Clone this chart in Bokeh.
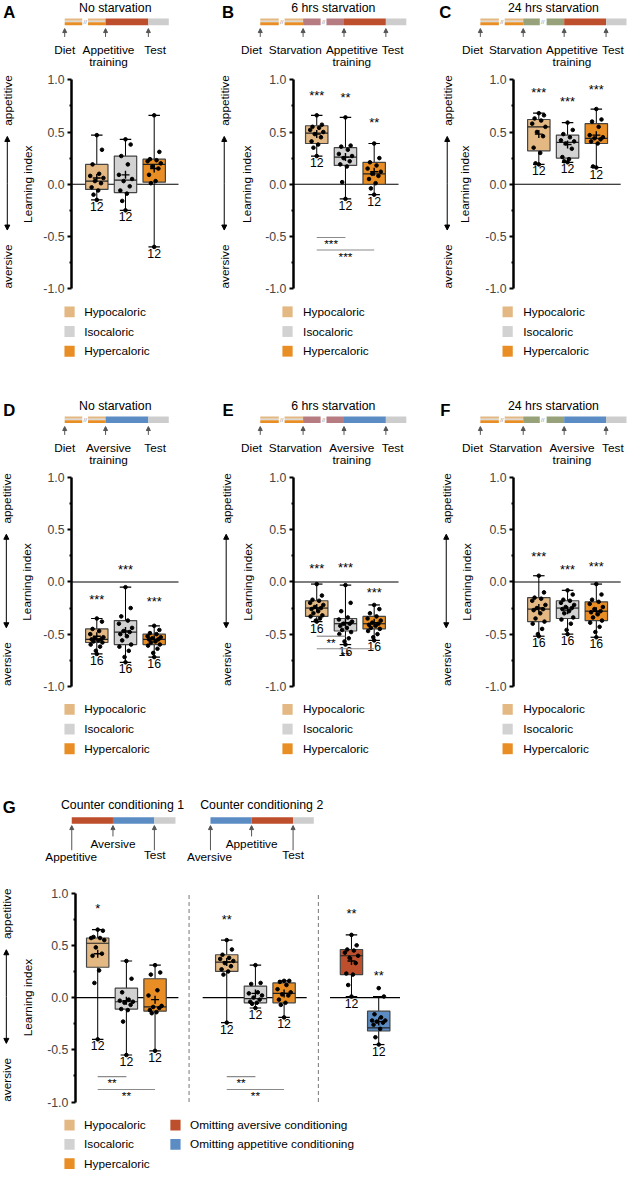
import math
from bokeh.plotting import figure
from bokeh.models import Range1d, LinearAxis, FixedTicker, NumeralTickFormatter, Arrow, NormalHead
from bokeh.layouts import column, row
from bokeh.embed import file_html
from bokeh.resources import INLINE
from bokeh.core.properties import value

# ---------------- data ----------------
diet_groups = ["Hypocaloric", "Isocaloric", "Hypercaloric"]
omit_groups = ["Omitting aversive conditioning", "Omitting appetitive conditioning"]

# Panel A: appetitive, no starvation
A_low = [-0.15, -0.25, -0.60]
A_q1 = [-0.05, -0.08, 0.02]
A_med = [0.03, 0.04, 0.19]
A_q3 = [0.19, 0.27, 0.24]
A_high = [0.47, 0.43, 0.66]
A_mean = [0.06, 0.09, 0.15]
A_n = ["12", "12", "12"]
A_stars = ["", "", ""]
A_star_y = [0, 0, 0]
A_points = [[0.47, 0.33, 0.19, 0.10, 0.08, 0.06, 0.03, 0.01, -0.03, -0.06, -0.10, -0.15],
            [0.43, 0.38, 0.27, 0.19, 0.09, 0.05, 0.03, -0.02, -0.06, -0.09, -0.16, -0.25],
            [0.66, 0.31, 0.24, 0.23, 0.22, 0.20, 0.17, 0.15, 0.09, 0.03, 0.01, -0.60]]

# Panel B: appetitive, 6 hrs starvation
B_low = [0.27, -0.14, -0.10]
B_q1 = [0.39, 0.18, 0.00]
B_med = [0.49, 0.26, 0.10]
B_q3 = [0.56, 0.35, 0.21]
B_high = [0.66, 0.64, 0.39]
B_mean = [0.48, 0.26, 0.12]
B_n = ["12", "12", "12"]
B_stars = ["***", "**", "**"]
B_star_y = [0.86, 0.84, 0.60]
B_points = [[0.66, 0.57, 0.55, 0.54, 0.52, 0.50, 0.48, 0.45, 0.41, 0.38, 0.35, 0.27],
            [0.64, 0.37, 0.36, 0.33, 0.29, 0.27, 0.25, 0.22, 0.19, 0.17, 0.02, -0.14],
            [0.39, 0.25, 0.21, 0.18, 0.15, 0.12, 0.10, 0.08, 0.05, 0.01, -0.04, -0.10]]
B_sig_pairs = [(1, 2), (1, 3)]
B_sig_text = ["***", "***"]
B_sig_y = [-0.51, -0.63]

# Panel C: appetitive, 24 hrs starvation
C_low = [0.19, 0.21, 0.16]
C_q1 = [0.32, 0.25, 0.39]
C_med = [0.55, 0.40, 0.44]
C_q3 = [0.62, 0.47, 0.58]
C_high = [0.68, 0.59, 0.72]
C_mean = [0.48, 0.38, 0.47]
C_n = ["12", "12", "12"]
C_stars = ["***", "***", "***"]
C_star_y = [0.89, 0.80, 0.92]
C_points = [[0.68, 0.66, 0.63, 0.61, 0.58, 0.55, 0.50, 0.46, 0.35, 0.30, 0.20, 0.19],
            [0.59, 0.52, 0.48, 0.45, 0.42, 0.41, 0.39, 0.34, 0.26, 0.24, 0.22, 0.21],
            [0.72, 0.62, 0.60, 0.55, 0.47, 0.45, 0.44, 0.43, 0.41, 0.39, 0.17, 0.16]]

# Panel D: aversive, no starvation
D_low = [-0.69, -0.77, -0.72]
D_q1 = [-0.58, -0.60, -0.60]
D_med = [-0.55, -0.48, -0.55]
D_q3 = [-0.45, -0.37, -0.50]
D_high = [-0.35, -0.05, -0.42]
D_mean = [-0.52, -0.47, -0.55]
D_n = ["16", "16", "16"]
D_stars = ["***", "***", "***"]
D_star_y = [-0.16, 0.13, -0.18]
D_points = [[-0.35, -0.38, -0.45, -0.47, -0.50, -0.53, -0.54, -0.55, -0.55, -0.56, -0.57, -0.58, -0.60, -0.62, -0.66, -0.69],
            [-0.05, -0.25, -0.33, -0.37, -0.40, -0.44, -0.47, -0.48, -0.50, -0.52, -0.56, -0.60, -0.62, -0.66, -0.72, -0.77],
            [-0.42, -0.46, -0.49, -0.50, -0.52, -0.53, -0.54, -0.55, -0.55, -0.57, -0.58, -0.60, -0.61, -0.64, -0.68, -0.72]]

# Panel E: aversive, 6 hrs starvation
E_low = [-0.38, -0.60, -0.56]
E_q1 = [-0.33, -0.47, -0.45]
E_med = [-0.25, -0.40, -0.40]
E_q3 = [-0.18, -0.35, -0.33]
E_high = [-0.02, -0.03, -0.22]
E_mean = [-0.25, -0.39, -0.39]
E_n = ["16", "16", "16"]
E_stars = ["***", "***", "***"]
E_star_y = [0.14, 0.15, -0.09]
E_points = [[-0.02, -0.13, -0.17, -0.18, -0.20, -0.22, -0.24, -0.25, -0.26, -0.28, -0.30, -0.32, -0.33, -0.35, -0.37, -0.38],
            [-0.03, -0.20, -0.28, -0.34, -0.36, -0.38, -0.40, -0.40, -0.42, -0.44, -0.46, -0.48, -0.50, -0.54, -0.57, -0.60],
            [-0.22, -0.26, -0.30, -0.33, -0.35, -0.37, -0.39, -0.40, -0.41, -0.42, -0.44, -0.45, -0.47, -0.50, -0.53, -0.56]]
E_sig_pairs = [(1, 2), (1, 3)]
E_sig_text = ["**", "**"]
E_sig_y = [-0.52, -0.64]

# Panel F: aversive, 24 hrs starvation
F_low = [-0.52, -0.50, -0.53]
F_q1 = [-0.38, -0.35, -0.37]
F_med = [-0.26, -0.25, -0.28]
F_q3 = [-0.15, -0.18, -0.19]
F_high = [0.06, -0.08, -0.02]
F_mean = [-0.25, -0.27, -0.28]
F_n = ["16", "16", "16"]
F_stars = ["***", "***", "***"]
F_star_y = [0.25, 0.13, 0.16]
F_points = [[0.06, -0.10, -0.15, -0.16, -0.18, -0.22, -0.25, -0.26, -0.27, -0.30, -0.35, -0.38, -0.40, -0.45, -0.50, -0.52],
            [-0.08, -0.12, -0.17, -0.18, -0.20, -0.22, -0.24, -0.25, -0.26, -0.28, -0.30, -0.34, -0.36, -0.40, -0.46, -0.50],
            [-0.02, -0.12, -0.17, -0.19, -0.21, -0.24, -0.26, -0.28, -0.29, -0.31, -0.34, -0.37, -0.39, -0.43, -0.48, -0.53]]

# Panel G: counter conditioning 1 (3 diets), counter conditioning 2 (3 diets), omission controls
G_low = [-0.40, -0.55, -0.51, -0.24, -0.10, -0.19, 0.01, -0.45]
G_q1 = [0.29, -0.11, -0.13, 0.25, -0.05, -0.05, 0.22, -0.32]
G_med = [0.52, -0.04, -0.09, 0.34, -0.01, 0.04, 0.40, -0.29]
G_q3 = [0.57, 0.09, 0.18, 0.41, 0.11, 0.14, 0.46, -0.13]
G_high = [0.65, 0.35, 0.31, 0.55, 0.31, 0.16, 0.60, 0.01]
G_mean = [0.42, -0.03, -0.02, 0.34, 0.04, 0.04, 0.35, -0.23]
G_n = ["12"] * 8
G_stars = ["*", "", "", "**", "", "", "**", "**"]
G_star_y = [0.86, 0, 0, 0.76, 0, 0, 0.81, 0.22]
G_points = [[0.65, 0.64, 0.58, 0.57, 0.57, 0.55, 0.48, 0.42, 0.40, 0.26, 0.14, -0.40],
            [0.35, 0.18, 0.05, -0.02, -0.03, -0.04, -0.05, -0.07, -0.11, -0.12, -0.23, -0.55],
            [0.31, 0.24, 0.22, 0.07, 0.02, -0.08, -0.09, -0.10, -0.12, -0.14, -0.15, -0.51],
            [0.55, 0.46, 0.41, 0.38, 0.37, 0.35, 0.33, 0.30, 0.27, 0.25, 0.22, -0.24],
            [0.31, 0.14, 0.13, 0.05, 0.04, 0.02, 0.00, -0.02, -0.04, -0.05, -0.06, -0.10],
            [0.16, 0.16, 0.15, 0.12, 0.08, 0.05, 0.03, 0.02, -0.02, -0.05, -0.07, -0.19],
            [0.60, 0.50, 0.46, 0.45, 0.43, 0.40, 0.38, 0.33, 0.23, 0.22, 0.12, 0.01],
            [0.09, 0.01, -0.16, -0.19, -0.22, -0.22, -0.23, -0.24, -0.26, -0.30, -0.38, -0.45]]
G_sig_pairs = [(1, 2), (1, 3), (4, 5), (4, 6)]
G_sig_text = ["**", "**", "**", "**"]
G_sig_y = [-0.757, -0.88, -0.757, -0.88]

# ---------------- styling / layout ----------------
COL = {"hypo": "#E3B882", "iso": "#D2D2D2", "hyper": "#E88E24", "app": "#BE4F2C",
       "av": "#5B8CC3", "s6": "#B67C82", "s24": "#97A27A", "test": "#CDCDCD"}
diet_colors = [COL["hypo"], COL["iso"], COL["hyper"]]
omit_colors = [COL["app"], COL["av"]]

SX = 626 / 644
SY = 1170 / 1188
U = 106.0   # reference px per y unit
S = 29.5    # reference px per group slot
FONT = "Liberation Sans"
JIT = [0.0, 0.55, -0.45, 0.25, -0.7, 0.7, -0.2, 0.45, -0.55, 0.15, -0.35, 0.6, -0.65, 0.35, -0.1, 0.0]
STAR_SHIFT = -0.01   # baseline offset that centres the asterisks on their target


def fsz(px):
    return value(f"{px * SY:.1f}px")


class Panel:
    def __init__(self, L, T, W, H, box1, y1):
        self.box1, self.y1 = box1, y1
        self.p = figure(width=round(W * SX), height=round(H * SY),
                        x_range=Range1d(self.X(L), self.X(L + W)),
                        y_range=Range1d(self.Y(T + H), self.Y(T)),
                        output_backend="svg", toolbar_location=None,
                        x_axis_location=None, y_axis_location=None,
                        min_border=0, outline_line_color=None)
        self.p.grid.visible = False
        self.p.background_fill_color = "white"
        self.p.border_fill_color = "white"

    def X(self, rx):
        return 1 + (rx - self.box1) / S

    def Y(self, ry):
        return 1 - (ry - self.y1) / U

    def text(self, rx, ry, s, size=12, align="center", baseline="middle", angle=0,
             style="normal", color="black"):
        self.p.text(x=[self.X(rx)], y=[self.Y(ry)], text=[s], text_font=value(FONT),
                    text_font_size=fsz(size), text_align=align, text_baseline=baseline,
                    angle=angle, text_font_style=style, text_color=color)

    def qbar(self, x0, x1, yt, yb, color):
        self.p.quad(left=[self.X(x0)], right=[self.X(x1)], top=[self.Y(yt)],
                    bottom=[self.Y(yb)], fill_color=color, line_color=None)

    def arrow(self, x, y_from, y_to, color="#555555", size=4, width=1):
        a = Arrow(end=NormalHead(size=size, fill_color=color, line_color=color),
                  start=None,
                  x_start=self.X(x), y_start=self.Y(y_from), x_end=self.X(x), y_end=self.Y(y_to),
                  line_color=color, line_width=width)
        self.p.add_layout(a)

    def axis(self, ax_ref):
        ax = LinearAxis(fixed_location=self.X(ax_ref), bounds=(-1, 1),
                        ticker=FixedTicker(ticks=[-1, -0.5, 0, 0.5, 1],
                                           minor_ticks=[-0.75, -0.25, 0.25, 0.75]),
                        formatter=NumeralTickFormatter(format="0.0"),
                        axis_line_width=2.5, axis_line_color="black",
                        major_tick_in=0, major_tick_out=4, major_tick_line_width=2,
                        minor_tick_in=0, minor_tick_out=2, minor_tick_line_width=2,
                        major_label_text_font=FONT,
                        major_label_text_font_size=f"{12.5 * SY:.1f}px",
                        major_label_standoff=3)
        self.p.add_layout(ax, "left")

    def side(self, appx, idx_x):
        y1 = self.y1
        self.text(appx, y1 + 21, "appetitive", 12, angle=math.pi / 2)
        self.text(appx, y1 + 189.5, "aversive", 12, angle=math.pi / 2)
        self.arrow(appx - 1, y1 + 105, y1 + 57.5, color="black", size=5)
        self.arrow(appx - 1, y1 + 105, y1 + 152.5, color="black", size=5)
        self.text(idx_x, y1 + 106, "Learning index", 12, angle=math.pi / 2)

    def legend(self, sw_x, txt_x, ys, names, colors):
        for y, nm, c in zip(ys, names, colors):
            self.p.rect(x=[self.X(sw_x)], y=[self.Y(y)], width=10.5 / S, height=11 / U,
                        fill_color=c, line_color=None)
            self.text(txt_x, y, nm, 12, align="left")


def header(P, letter, letter_x, title, title_x, dy, segs, breaks, arrows, labels):
    P.text(letter_x, 12 + dy, letter, 17, style="bold")
    P.text(title_x, 8 + dy, title, 12.5)
    yt, yb = 18.3 + dy, 25 + dy
    for x0, x1, kind in segs:
        if kind == "diet":
            P.qbar(x0, x1, yt, yt + 2.3, COL["hypo"])
            P.qbar(x0, x1, yt + 2.3, yt + 3.8, "#D9D9D9")
            P.qbar(x0, x1, yt + 3.8, yb, COL["hyper"])
        else:
            P.qbar(x0, x1, yt, yb, COL[kind])
    for bx in breaks:
        P.text(bx, (yt + yb) / 2, "//", 6, color="#888888")
    for axx in arrows:
        P.arrow(axx, 37 + dy, 28.5 + dy)
    for s, lx, ly in labels:
        P.text(lx, ly + dy, s, 12)


def draw_groups(P, xs, low, q1, med, q3, high, mean, n, stars, star_y, points, colors):
    p = P.p
    bw = 0.78
    cw = 0.2
    p.segment(x0=xs, y0=q3, x1=xs, y1=high, line_color="black", line_width=1)
    p.segment(x0=xs, y0=low, x1=xs, y1=q1, line_color="black", line_width=1)
    p.segment(x0=[x - cw for x in xs], x1=[x + cw for x in xs], y0=high, y1=high,
              line_color="black", line_width=1.2)
    p.segment(x0=[x - cw for x in xs], x1=[x + cw for x in xs], y0=low, y1=low,
              line_color="black", line_width=1.2)
    p.vbar(x=xs, width=bw, top=q3, bottom=q1, fill_color=colors, line_color="#444444",
           line_width=1.2)
    p.segment(x0=[x - bw / 2 for x in xs], x1=[x + bw / 2 for x in xs], y0=med, y1=med,
              line_color="#222222", line_width=1.2)
    px, py = [], []
    for x, pts in zip(xs, points):
        for i, v in enumerate(pts):
            j = 0.0 if i == len(pts) - 1 else JIT[i % len(JIT)]
            px.append(x + j * bw * 0.42)
            py.append(v)
    p.scatter(x=px, y=py, size=3.6, color="black")
    p.scatter(x=xs, y=mean, marker="cross", size=8, line_color="black", line_width=1.4)
    p.text(x=xs, y=[l - 0.02 for l in low], text=n, text_font=value(FONT),
           text_font_size=fsz(12.5), text_align="center", text_baseline="top")
    sx = [x for x, s in zip(xs, stars) if s]
    sy = [y + STAR_SHIFT for y, s in zip(star_y, stars) if s]
    st = [s for s in stars if s]
    if st:
        p.text(x=sx, y=sy, text=st, text_font=value(FONT), text_font_size=fsz(13),
               text_align="center", text_baseline="alphabetic")


def draw_sig(P, xs, pairs, texts, ys):
    p = P.p
    for (a, b), t, y in zip(pairs, texts, ys):
        xa, xb = xs[a - 1], xs[b - 1]
        p.segment(x0=[xa], x1=[xb], y0=[y], y1=[y], line_color="#8a8a8a", line_width=1.2)
        p.text(x=[(xa + xb) / 2], y=[y - 0.055 + STAR_SHIFT], text=[t], text_font=value(FONT),
               text_font_size=fsz(12), text_align="center", text_baseline="alphabetic")


def zero_line(P, x0_ref, x1_ref):
    P.p.segment(x0=[P.X(x0_ref)], x1=[P.X(x1_ref)], y0=[0], y1=[0], line_color="black",
                line_width=1.2)


xs3 = [1, 2, 3]
cols = [(0, 220, 99, 73), (220, 228, 325, 301), (448, 196, 553, 527)]
side_pos = [(8, 28), (231, 253), (460, 477)]
side_pos2 = [(7, 27), (233, 254), (459, 479)]
legend_pos = [(71, 86), (295, 311), (521, 537)]

app_headers = [
    ("A", 9, "No starvation", 118,
     [(66, 84, "diet"), (90, 108, "diet"), (108, 152, "app"), (152, 173, "test")], [87],
     [66, 108, 152], [("Diet", 66, 50.5), ("Appetitive", 111, 50.5), ("training", 111, 62), ("Test", 159, 50.5)]),
    ("B", 234, "6 hrs starvation", 342,
     [(267, 286, "diet"), (292, 311, "diet"), (311, 329, "s6"), (335, 353, "s6"), (353, 396, "app"), (396, 417, "test")],
     [289, 332], [267, 311, 353, 396],
     [("Diet", 258, 50.5), ("Starvation", 303, 50.5), ("Appetitive", 361, 50.5), ("training", 361, 62), ("Test", 403, 50.5)]),
    ("C", 457, "24 hrs starvation", 568,
     [(493, 512, "diet"), (518, 537, "diet"), (537, 554, "s24"), (561, 579, "s24"), (579, 622, "app"), (622, 643, "test")],
     [515, 557], [493, 537, 579, 622],
     [("Diet", 485, 50.5), ("Starvation", 529, 50.5), ("Appetitive", 587, 50.5), ("training", 587, 62), ("Test", 629, 50.5)]),
]
av_headers = []
for (lt, lx, tt, tx, segs, brk, arr, labs), newlt in zip(app_headers, ["D", "E", "F"]):
    segs2 = [(a, b, "av" if k == "app" else k) for a, b, k in segs]
    labs2 = [("Aversive" if s == "Appetitive" else s, x, y) for s, x, y in labs]
    av_headers.append((newlt, lx, tt, tx, segs2, brk, arr, labs2))

row1_data = [
    (A_low, A_q1, A_med, A_q3, A_high, A_mean, A_n, A_stars, A_star_y, A_points),
    (B_low, B_q1, B_med, B_q3, B_high, B_mean, B_n, B_stars, B_star_y, B_points),
    (C_low, C_q1, C_med, C_q3, C_high, C_mean, C_n, C_stars, C_star_y, C_points),
]
row2_data = [
    (D_low, D_q1, D_med, D_q3, D_high, D_mean, D_n, D_stars, D_star_y, D_points),
    (E_low, E_q1, E_med, E_q3, E_high, E_mean, E_n, E_stars, E_star_y, E_points),
    (F_low, F_q1, F_med, F_q3, F_high, F_mean, F_n, F_stars, F_star_y, F_points),
]


def build_row(T, H, dy, headers, data, sides, sig):
    figs = []
    for i in range(3):
        L, W, box1, axr = cols[i]
        P = Panel(L, T, W, H, box1, 80.5 + dy)
        lt, lx, tt, tx, segs, brk, arr, labs = headers[i]
        header(P, lt, lx, tt, tx, dy, segs, brk, arr, labs)
        P.side(*sides[i])
        zero_line(P, axr, box1 + 84)
        P.axis(axr)
        draw_groups(P, xs3, *data[i], diet_colors)
        if i == 1:
            draw_sig(P, xs3, *sig)
        sx, tx2 = legend_pos[i]
        P.legend(sx, tx2, [316 + dy, 336 + dy, 356 + dy], diet_groups, diet_colors)
        figs.append(P.p)
    return row(figs)


r1 = build_row(0, 404, 0, app_headers, row1_data, side_pos, (B_sig_pairs, B_sig_text, B_sig_y))
r2 = build_row(404, 372, 404, av_headers, row2_data, side_pos2, (E_sig_pairs, E_sig_text, E_sig_y))

# ---- panel G ----
G = Panel(0, 776, 644, 412, 100, 906.5)
G_x = [1, 2, 3, 5.5, 6.5, 7.5, 9.85, 10.8]
G.text(9, 820, "G", 17, style="bold")
G.text(125.5, 816.7, "Counter conditioning 1", 12.5)
G.text(268.7, 816.7, "Counter conditioning 2", 12.5)
for x0, x1, k in [(73.3, 115.7, "app"), (115.7, 158.3, "av"), (158.3, 180, "test"),
                  (216, 258.3, "av"), (258.3, 301, "app"), (301, 322.3, "test")]:
    G.qbar(x0, x1, 829.5, 836, COL[k])
for axx, yb in [(73.3, 863), (115.7, 849), (158.3, 863), (216, 863), (258.3, 849), (301, 863)]:
    G.arrow(axx, yb, 838)
for s, lx, ly in [("Appetitive", 72.7, 870), ("Aversive", 115.7, 856.7), ("Test", 158.7, 868.3),
                  ("Aversive", 215, 870), ("Appetitive", 258.3, 856.7), ("Test", 301, 868.3)]:
    G.text(lx, ly, s, 12)
G.side(7, 28)
for a, b in [(77, 183), (208, 315), (339, 411)]:
    zero_line(G, a, b)
G.p.segment(x0=[G.X(194), G.X(327)], x1=[G.X(194), G.X(327)], y0=[-1, -1], y1=[1, 1],
            line_color="#777777", line_width=1, line_dash="4 3")
G.axis(77)
g_colors = diet_colors + diet_colors + omit_colors
draw_groups(G, G_x, G_low, G_q1, G_med, G_q3, G_high, G_mean, G_n, G_stars, G_star_y,
            G_points, g_colors)
draw_sig(G, G_x, G_sig_pairs, G_sig_text, G_sig_y)
G.legend(71, 86, [1142, 1161.5, 1181], diet_groups, diet_colors)
G.legend(180, 195, [1142, 1161.5], omit_groups, omit_colors)

layout = column(r1, r2, G.p)
open("out.html", "w").write(file_html(layout, INLINE))
